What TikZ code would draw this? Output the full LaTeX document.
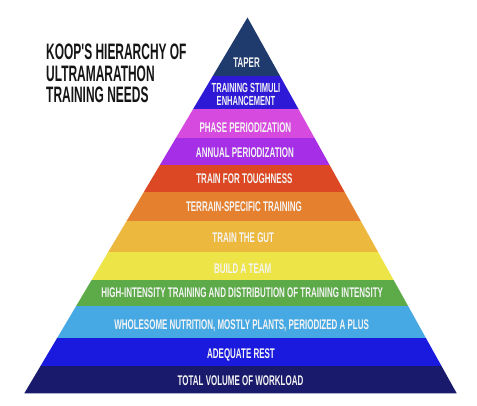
\documentclass[tikz,border=0pt]{standalone}
\usepackage{fontspec}
\newfontfamily\pyrfont{Liberation Sans}[FakeStretch=0.57]
\newfontfamily\ttlfont{Liberation Sans}[FakeStretch=0.535]
\definecolor{ctaper}{HTML}{1F3A6C}
\definecolor{cstim}{HTML}{2E1AD6}
\definecolor{cphase}{HTML}{D64ADF}
\definecolor{cannual}{HTML}{A52EE6}
\definecolor{ctough}{HTML}{DC4823}
\definecolor{cterrain}{HTML}{E5802F}
\definecolor{cgut}{HTML}{ECB83D}
\definecolor{cteam}{HTML}{EDE447}
\definecolor{chi}{HTML}{5CAA48}
\definecolor{cwhole}{HTML}{47A9E3}
\definecolor{crest}{HTML}{1A1ADF}
\definecolor{ctotal}{HTML}{1A1A6C}
\definecolor{ctitle}{HTML}{151515}
\definecolor{clbl}{HTML}{F4F4F4}
\tikzset{
  lblbase/.style={inner sep=0pt, text=clbl, font=\pyrfont\bfseries\fontsize{14}{12}\selectfont},
  lbl/.style={lblbase, text height=10pt, text depth=0pt},
  ttl/.style={inner sep=0pt, anchor=base west, text=ctitle, font=\ttlfont\bfseries\fontsize{22.35}{22}\selectfont}
}
\begin{document}
\begin{tikzpicture}[x=1pt,y=-1pt]
\useasboundingbox (0,0) rectangle (477,405);
\fill[white] (0,0) rectangle (477,405);
\coordinate (apex) at (247.5,17.5);
\coordinate (bl) at (24.3,393.3);
\coordinate (br) at (456.7,393.3);
\begin{scope}
  \clip (apex) -- (bl) -- (br) -- cycle;
  \fill[ctaper]   (0,10)    rectangle (477,76);
  \fill[cstim]    (0,76)    rectangle (477,109);
  \fill[cphase]   (0,109)   rectangle (477,137.5);
  \fill[cannual]  (0,137.5) rectangle (477,165);
  \fill[ctough]   (0,165)   rectangle (477,192);
  \fill[cterrain] (0,192)   rectangle (477,221);
  \fill[cgut]     (0,221)   rectangle (477,251.5);
  \fill[cteam]    (0,251.5) rectangle (477,280);
  \fill[chi]      (0,280)   rectangle (477,306);
  \fill[cwhole]   (0,306)   rectangle (477,338);
  \fill[crest]    (0,338)   rectangle (477,366);
  \fill[ctotal]   (0,366)   rectangle (477,400);
\end{scope}
\node[lbl] (taper) at (246.6,62) {TAPER};
\node[lbl, font=\pyrfont\bfseries\fontsize{13.2}{12}\selectfont, text height=9.4pt] (stim1) at (246.0,88) {TRAINING STIMULI};
\node[lbl, font=\pyrfont\bfseries\fontsize{13.2}{12}\selectfont, text height=9.4pt] (stim2) at (246.0,100.5) {ENHANCEMENT};
\node[lbl] (phase) at (245.4,127) {PHASE PERIODIZATION};
\node[lbl] (annual) at (244.9,152.5) {ANNUAL PERIODIZATION};
\node[lbl] (tough) at (244.4,178) {TRAIN FOR TOUGHNESS};
\node[lbl] (terrain) at (243.9,206.5) {TERRAIN-SPECIFIC TRAINING};
\node[lbl] (gut) at (243.3,237) {TRAIN THE GUT};
\node[lbl] (team) at (242.7,268) {BUILD A TEAM};
\node[lbl] (hi) at (242.2,292) {HIGH-INTENSITY TRAINING AND DISTRIBUTION OF TRAINING INTENSITY};
\node[lbl] (whole) at (241.6,324.5) {WHOLESOME NUTRITION, MOSTLY PLANTS, PERIODIZED A PLUS};
\node[lbl] (rest) at (241.0,353.5) {ADEQUATE REST};
\node[lbl] (total) at (240.5,380) {TOTAL VOLUME OF WORKLOAD};
\node[ttl] (t1) at (46,59.3) {KOOP'S HIERARCHY OF};
\node[ttl] (t2) at (46,81.7) {ULTRAMARATHON};
\node[ttl] (t3) at (46,102.7) {TRAINING NEEDS};
\end{tikzpicture}
\end{document}
